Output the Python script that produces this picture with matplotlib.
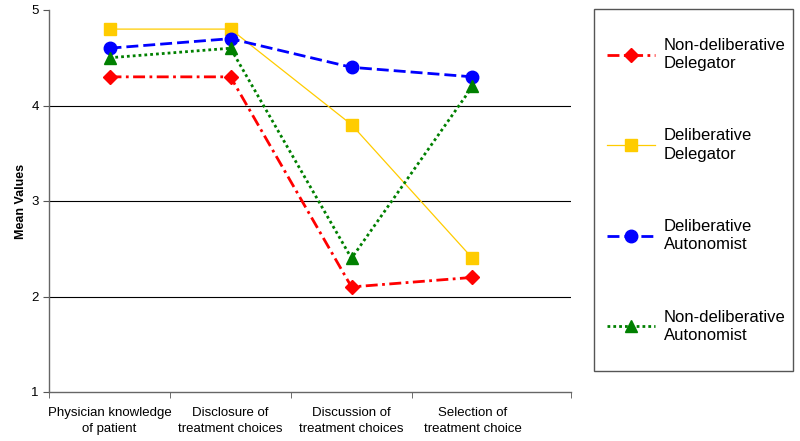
import numpy as np
import matplotlib
matplotlib.use("Agg")
import matplotlib.pyplot as plt
from matplotlib.patches import Rectangle

plt.rcParams['font.family'] = ['Liberation Sans', 'DejaVu Sans']

# categories on the x axis
categories = ["Physician knowledge\nof patient", "Disclosure of\ntreatment choices",
              "Discussion of\ntreatment choices", "Selection of\ntreatment choice"]

# mean values per group
non_delib_delegator = [4.3, 4.3, 2.1, 2.2]
delib_delegator = [4.8, 4.8, 3.8, 2.4]
delib_autonomist = [4.6, 4.7, 4.4, 4.3]
non_delib_autonomist = [4.5, 4.6, 2.4, 4.2]

fig = plt.figure(figsize=(8, 4.41), dpi=100)
ax = fig.add_axes([49/800, 1-392/441, (571-49)/800, (392-10)/441])

x = np.arange(len(categories))

# gridlines
for g in [2, 3, 4]:
    ax.axhline(g, color='black', lw=0.8, zorder=1)

ax.plot(x, non_delib_delegator, color='#ff0000', lw=2, dashes=(4.3, 1.6, 1, 1.6),
        marker='D', markersize=7, label='Non-deliberative\nDelegator', zorder=3)
ax.plot(x, delib_delegator, color='#ffcc00', lw=0.9, linestyle='-',
        marker='s', markersize=9, label='Deliberative\nDelegator', zorder=3)
ax.plot(x, delib_autonomist, color='#0000ff', lw=2, dashes=(4.3, 1.8),
        marker='o', markersize=9, label='Deliberative\nAutonomist', zorder=3)
ax.plot(x, non_delib_autonomist, color='#008000', lw=2, dashes=(1, 1.1),
        marker='^', markersize=9, label='Non-deliberative\nAutonomist', zorder=3)

ax.set_ylim(1, 5)
ax.set_yticks([1, 2, 3, 4, 5])
ax.set_xlim(-0.5, (571-49)/121 - 0.5)
ax.set_xticks(x)
ax.set_xticklabels(categories, fontsize=9.5, linespacing=1.45)
ax.tick_params(axis='x', length=0, pad=11)
ax.set_xticks([-0.5, 0.5, 1.5, 2.5, (571-49)/121 - 0.5], minor=True)
ax.tick_params(axis='x', which='minor', length=4, color='#555555', direction='out')
ax.tick_params(axis='y', labelsize=9.5, length=4, color='#555555')
ax.set_ylabel('Mean Values', fontsize=9, fontweight='bold', labelpad=3)

for s in ['top', 'right']:
    ax.spines[s].set_visible(False)
for s in ['left', 'bottom']:
    ax.spines[s].set_color('#666666')
    ax.spines[s].set_linewidth(1.0)

# legend box drawn separately
fig.patches.append(Rectangle((594/800, 1-371/441), 199/800, 362/441,
                             transform=fig.transFigure, fill=False,
                             edgecolor='#555555', lw=1.0))

leg = fig.legend(loc='upper left', bbox_to_anchor=(607/800, 1-38/441), fontsize=12,
                 frameon=False, handlelength=2.9, labelspacing=3.45, borderpad=0,
                 handletextpad=0.5, borderaxespad=0)
for t in leg.get_texts():
    t.set_linespacing(1.25)

fig.savefig('out.png', dpi=100)
